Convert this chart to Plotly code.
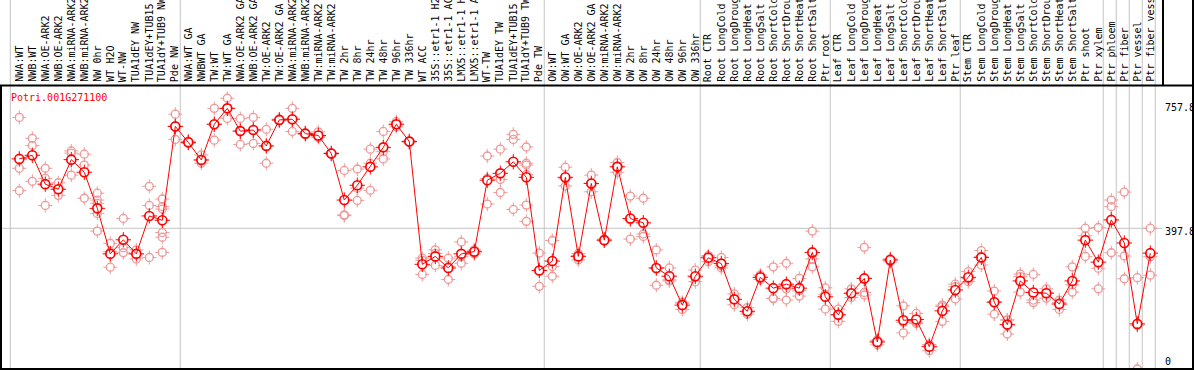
import plotly.graph_objects as go

W, H = 1194, 370

samples = [
    "NWA:WT", "NWB:WT", "NWA:OE-ARK2", "NWB:OE-ARK2", "NWA:miRNA-ARK2", "NWB:miRNA-ARK2",
    "NW 0hr", "WT H2O", "WT-NW", "TUA1dEY NW", "TUA1dEY+TUB15", "TUA1dY+TUB9 NW", "Pde NW",
    "NWA:WT GA", "NWBWT GA", "TW:WT", "TW:WT GA", "NWA:OE-ARK2 GA", "NWB:OE-ARK2 GA",
    "TW:OE-ARK2", "TW:OE-ARK2 GA", "NWA:miRNA-ARK2 GA", "NWB:miRNA-ARK2 GA", "TW:miRNA-ARK2",
    "TW:miRNA-ARK2 GA", "TW 2hr", "TW 8hr", "TW 24hr", "TW 48hr", "TW 96hr", "TW 336hr",
    "WT ACC", "35S::etr1-1 H2O", "35S::etr1-1 ACC", "LMX5::etr1-1 H2O", "LMX5::etr1-1 ACC",
    "WT-TW", "TUA1dEY TW", "TUA1dEY+TUB15", "TUA1dY+TUB9 TW", "Pde TW",
    "OW:WT", "OW:WT GA", "OW:OE-ARK2", "OW:OE-ARK2 GA", "OW:miRNA-ARK2", "OW:miRNA-ARK2 GA",
    "OW 2hr", "OW 8hr", "OW 24hr", "OW 48hr", "OW 96hr", "OW 336hr",
    "Root CTR", "Root LongCold", "Root LongDrought", "Root LongHeat", "Root LongSalt",
    "Root ShortCold", "Root ShortDrought", "Root ShortHeat", "Root ShortSalt", "Ptr root",
    "Leaf CTR", "Leaf LongCold", "Leaf LongDrought", "Leaf LongHeat", "Leaf LongSalt",
    "Leaf ShortCold", "Leaf ShortDrought", "Leaf ShortHeat", "Leaf ShortSalt", "Ptr leaf",
    "Stem CTR", "Stem LongCold", "Stem LongDrought", "Stem LongHeat", "Stem LongSalt",
    "Stem ShortCold", "Stem ShortDrought", "Stem ShortHeat", "Stem ShortSalt", "Ptr shoot",
    "Ptr xylem", "Ptr phloem", "Ptr fiber", "Ptr vessel", "Ptr fiber vessel",
]

means = [
    590, 600, 520, 506, 588, 553, 453, 327, 366, 327, 432, 420, 680,
    636, 587, 686, 730, 667, 670, 626, 698, 700, 660, 655, 605, 476, 517, 568, 622, 686, 638,
    298, 320, 288, 327, 333, 531, 550, 582, 539, 281,
    307, 539, 320, 522, 365, 568, 425, 413, 288, 265, 185, 265,
    316, 300, 201, 168, 262, 232, 243, 232, 331, 208,
    158, 218, 259, 83, 310, 143, 145, 70, 169, 227,
    262, 317, 193, 131, 252, 220, 218, 188, 252, 365,
    304, 421, 357, 133, 329,
]

replicates = [
    [705, 564, 502], [647, 627, 528], [564, 536, 461], [524, 489, 506], [612, 545, 606],
    [603, 573, 481], [495, 476, 467, 439, 390], [356, 333, 290], [425, 344, 330],
    [338, 313, 327], [514, 461, 317], [479, 458, 451, 386, 373, 331], [714, 644, 680],
    [639, 636, 633], [601, 578, 587], [730, 642, 686], [758, 702, 730], [702, 630, 667],
    [705, 633, 670], [672, 578, 626], [700, 698, 696], [730, 666, 700], [662, 660, 658],
    [665, 652, 649], [607, 605, 603], [558, 435, 433], [562, 509, 475], [617, 578, 503],
    [666, 610, 590], [693, 679, 686], [640, 638, 636],
    [315, 309, 270], [338, 295, 328], [315, 256, 292], [360, 301, 319], [338, 327, 335],
    [598, 536, 465], [617, 533, 497], [658, 644, 450], [623, 578, 573, 547, 462, 417],
    [329, 237, 281],
    [364, 292, 265], [567, 515, 535], [328, 310, 322], [545, 499, 522], [368, 365, 363],
    [580, 553, 570], [487, 368, 421], [481, 375, 382], [338, 240, 286], [288, 252, 255],
    [173, 193, 190], [282, 250, 262],
    [322, 305, 319], [317, 288, 294], [216, 186, 201], [178, 160, 166], [268, 256, 262],
    [291, 203, 204], [301, 230, 199], [259, 210, 225], [390, 291, 313], [233, 174, 215],
    [174, 140, 159], [230, 218, 206], [345, 220, 213], [75, 88, 86], [305, 313, 312],
    [183, 108, 137], [162, 134, 138], [59, 75, 76], [185, 140, 181], [243, 202, 236],
    [278, 250, 258], [336, 296, 320], [224, 160, 195], [144, 105, 144], [271, 264, 221],
    [270, 199, 192], [230, 204, 220], [199, 173, 192], [291, 241, 221], [398, 377, 320],
    [400, 287, 230], [476, 458, 330], [498, 321, 258], [261, 8, 129], [398, 319, 268],
]

gene = "Potri.001G271100"
tick_values = [757.8, 397.8, 0]
tick_labels = ["757.8", "397.8", "0"]
group_ends = [12, 40, 52, 62, 72, 83, 84, 85, 86, 87]

FONT = "DejaVu Sans Mono"
RED = "#ff0000"
PINK = "#ee9a9a"
GREY = "#c4c4c4"

X0, DX = 19.3, 13.0          # pixel of first sample, spacing
Y_ZERO, VPP = 371.9, 2.77     # pixel of value 0, value per pixel


def px(xp):
    return xp / W


def py(yp):
    return 1 - yp / H


x_idx = list(range(len(samples)))
rx, ry = [], []
for i, reps in enumerate(replicates):
    for v in reps:
        rx.append(i)
        ry.append(v)

fig = go.Figure()


def tick_marker(x, y, color, size, mask):
    # cross ticks, whose centre is then masked so only short outer ticks remain
    fig.add_trace(go.Scatter(x=x, y=y, mode="markers", hoverinfo="skip",
                             marker=dict(symbol="cross-thin-open", size=size, color=color,
                                         line=dict(color=color, width=1))))
    fig.add_trace(go.Scatter(x=x, y=y, mode="markers", hoverinfo="skip",
                             marker=dict(symbol="circle", size=mask, color="white",
                                         line=dict(width=0))))


# replicate points
tick_marker(rx, ry, PINK, 10, 6)
fig.add_trace(go.Scatter(x=rx, y=ry, mode="markers",
                         marker=dict(symbol="circle-open", size=8, color=PINK,
                                     line=dict(color=PINK, width=1.3))))
# mean markers + line
tick_marker(x_idx, means, RED, 11, 7)
fig.add_trace(go.Scatter(x=x_idx, y=means, mode="lines", line=dict(color=RED, width=1)))
fig.add_trace(go.Scatter(x=x_idx, y=means, mode="markers", text=samples,
                         marker=dict(symbol="circle-open", size=9, color=RED,
                                     line=dict(color=RED, width=1.6))))

shapes = []
shapes.append(dict(type="line", xref="paper", yref="y", x0=px(1), x1=px(1162),
                   y0=tick_values[1], y1=tick_values[1], line=dict(color=GREY, width=1), layer="below"))
shapes.append(dict(type="line", xref="paper", yref="paper", x0=px(10.3), x1=px(10.3), y0=0, y1=1,
                   line=dict(color=GREY, width=1), layer="below"))
for g in group_ends:
    shapes.append(dict(type="line", xref="x", yref="paper", x0=g + 0.38, x1=g + 0.38, y0=0, y1=1,
                       line=dict(color=GREY, width=1), layer="below"))
blk = dict(color="black", width=2)
shapes.append(dict(type="line", xref="paper", yref="paper", x0=0, x1=1, y0=py(85.5), y1=py(85.5), line=blk))
shapes.append(dict(type="line", xref="paper", yref="paper", x0=0, x1=1, y0=py(369), y1=py(369), line=blk))
shapes.append(dict(type="line", xref="paper", yref="paper", x0=px(1), x1=px(1), y0=py(85.5), y1=py(370), line=blk))
shapes.append(dict(type="line", xref="paper", yref="paper", x0=px(1193), x1=px(1193), y0=py(0), y1=py(370), line=blk))
shapes.append(dict(type="line", xref="paper", yref="paper", x0=px(1163), x1=px(1163), y0=py(0), y1=py(85.5), line=blk))

annotations = []
for i, s in enumerate(samples):
    annotations.append(dict(x=i - 0.05, y=py(84), xref="x", yref="paper", text=s, showarrow=False,
                            textangle=-90, xanchor="center", yanchor="bottom",
                            font=dict(family=FONT, size=10, color="black")))
annotations.append(dict(x=px(9), y=py(97.3), xref="paper", yref="paper", text=gene, showarrow=False,
                        xanchor="left", yanchor="middle", font=dict(family=FONT, size=10, color=RED)))
label_y = [107.7, 231.7, 361.7]
for t, yy in zip(tick_labels, label_y):
    annotations.append(dict(x=px(1163), y=py(yy), xref="paper", yref="paper", text=t, showarrow=False,
                            xanchor="left", yanchor="middle", font=dict(family=FONT, size=10, color="black")))

fig.update_layout(
    width=W, height=H, margin=dict(l=0, r=0, t=0, b=0),
    paper_bgcolor="white", plot_bgcolor="white", showlegend=False,
    xaxis=dict(range=[(0 - X0) / DX, (W - X0) / DX], visible=False, fixedrange=True),
    yaxis=dict(range=[(Y_ZERO - H) * VPP, Y_ZERO * VPP], visible=False, fixedrange=True),
    shapes=shapes, annotations=annotations,
)

fig.write_html("out.html", config={"displayModeBar": False},
               post_script="document.body.style.margin='0';")
